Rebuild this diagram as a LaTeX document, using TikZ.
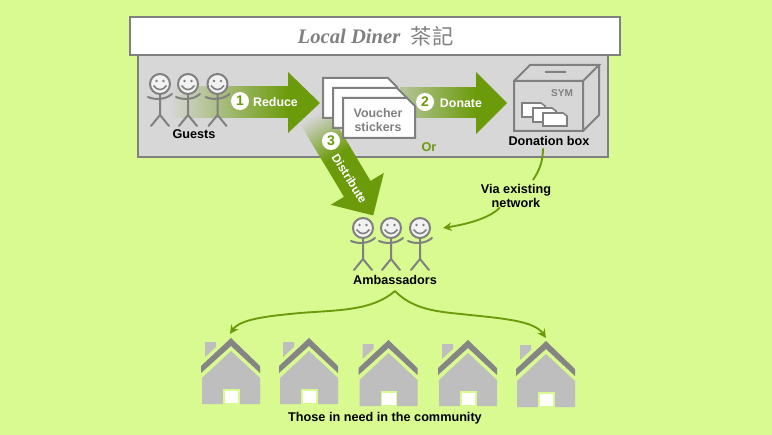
\documentclass[tikz,border=0pt]{standalone}
\usepackage{fontspec}
\setmainfont{Liberation Sans}
\newfontfamily\cjkfont{Noto Sans CJK TC}
\newfontfamily\titlefont{Liberation Serif}
\usetikzlibrary{arrows.meta}
\definecolor{bgg}{HTML}{D8FA90}
\definecolor{boxg}{HTML}{D7D7D7}
\definecolor{lineg}{HTML}{808080}
\definecolor{arrg}{HTML}{6B9B0A}
\definecolor{houseg}{HTML}{BEBEBE}
\definecolor{roofg}{HTML}{858585}
\tikzset{
  lbl/.style={font=\fontsize{9.5}{11}\selectfont\bfseries,text=black,inner sep=0pt,align=center},
  wlbl/.style={font=\fontsize{9.3}{11}\selectfont\bfseries,text=white,inner sep=0pt},
  numdot/.style={circle,fill=white,minimum size=13.5pt,inner sep=0pt,text=arrg,font=\fontsize{10.5}{11}\selectfont\bfseries},
  grn/.style={draw=arrg,line width=1.4pt,-{Stealth[length=6.5pt,width=6.5pt]}},
  grnp/.style={draw=arrg,line width=1.4pt},
  stickman/.pic={
    \draw[lineg,line width=1.5pt,fill=white!90!lineg] (0,0) circle (10);
    \fill[lineg] (-3.5,-3) circle (1.4) (3.5,-3) circle (1.4);
    \draw[lineg,line width=1.2pt] (-6.5,1.5) .. controls (-3,7) and (3,7) .. (6.5,1.5);
    \draw[lineg,line width=1.5pt,line cap=round]
      (0,10) -- (0,31) (-9,42) -- (0,31) -- (9,42)
      (-12,13) .. controls (-5,16) and (5,16) .. (12,10);
  },
  house/.pic={
    \fill[houseg] (-26,4) -- (-15,4) -- (-15,9) -- (-26,19) -- cycle;
    \fill[roofg] (0,0) -- (29,28) -- (29,35) -- (0,8) -- (-30,35) -- (-30,28) -- cycle;
    \fill[houseg] (0,13) -- (29,40) -- (29,66) -- (-29,66) -- (-29,40) -- cycle;
    \draw[bgg,fill=white,line width=0.8pt] (-7,52) rectangle (8,66);
  },
  card/.style={draw=lineg,fill=white,line width=1.5pt,line join=miter}
}
\begin{document}
\begin{tikzpicture}[x=0.75pt,y=-0.75pt]
\useasboundingbox (0,0) rectangle (772,435);
\fill[bgg] (0,0) rectangle (772,435);
% panels
\draw[lineg,fill=boxg,line width=1.5pt] (138,50) rectangle (608,157);
\draw[lineg,fill=white,line width=1.5pt] (130,17) rectangle (620,55);
\node[inner sep=0pt,text=lineg,font=\titlefont\fontsize{15.5}{18}\selectfont\bfseries\itshape] (title) at (349,36) {Local Diner};
\node[inner sep=0pt,text=lineg,font=\cjkfont\fontsize{16}{18}\selectfont] (titlecjk) at (432,36) {茶記};
% reduce arrow
\fill[left color=boxg,right color=arrg] (170,87) -- (288,87) -- (288,118) -- (170,118) -- cycle;
\fill[arrg] (288,72) -- (320,103) -- (288,133) -- cycle;
% donate arrow
\fill[left color=boxg!70!arrg,right color=arrg] (400,88) -- (476,88) -- (476,118) -- (400,118) -- cycle;
\fill[arrg] (476,72) -- (507,103) -- (476,134) -- cycle;
% distribute arrow
\begin{scope}[shift={(313.5,116)},rotate=-59]
  \foreach \i in {0,...,45}{
    \pgfmathsetmacro{\p}{100-\i*100/46}
    \fill[boxg!\p!arrg] (\i,-15.5) rectangle (\i+1.5,15.5);
  }
  \fill[arrg] (46,-15.5) -- (85,-15.5) -- (85,-31) -- (116,0) -- (85,31) -- (85,15.5) -- (46,15.5) -- cycle;
\end{scope}
% guests
\pic at (160,84) {stickman};
\pic at (188,84) {stickman};
\pic at (217.5,84) {stickman};
\node[lbl] (guests) at (194,134.5) {Guests};
% voucher stickers
\draw[card] (323,78) -- (388,78) -- (397,87) -- (397,118) -- (323,118) -- cycle;
\draw[card] (333,88) -- (397,88) -- (406,97) -- (406,128) -- (333,128) -- cycle;
\draw[card] (343,98) -- (407,98) -- (415,106) -- (415,138) -- (343,138) -- cycle;
\node[inner sep=0pt,align=center,text=lineg,font=\fontsize{9.3}{10.6}\selectfont\bfseries] (voucher) at (378,120) {Voucher\\stickers};
% arrow labels
\node[numdot] (n1) at (240,101) {1};
\node[wlbl] (reduce) at (275.5,102) {Reduce};
\node[numdot] (n2) at (425,102) {2};
\node[wlbl] (donate) at (461,103) {Donate};
\node[numdot] (n3) at (331,141) {3};
\node[wlbl,rotate=-58,font=\fontsize{8.9}{11}\selectfont\bfseries] (distribute) at (349.5,178.5) {Distribute};
% donation box
\draw[lineg,line width=1.5pt,line join=miter] (514,81) rectangle (583,131)
  (514,81) -- (530,65) -- (599,65) -- (583,81)
  (599,65) -- (599,115) -- (583,131)
  (545,72) -- (566,72);
\node[inner sep=0pt,text=lineg,font=\fontsize{7.5}{9}\selectfont\bfseries] (sym) at (562,93) {SYM};
\draw[card,line width=1.2pt] (522,103) -- (541,103) -- (545,106) -- (545,117) -- (522,117) -- cycle;
\draw[card,line width=1.2pt] (533,108) -- (552,108) -- (556,111) -- (556,122) -- (533,122) -- cycle;
\draw[card,line width=1.2pt] (543,113) -- (563,113) -- (567,116) -- (567,126) -- (543,126) -- cycle;
\node[lbl] (dbox) at (549,140.5) {Donation box};
\node[inner sep=0pt,text=arrg,font=\fontsize{9.5}{11}\selectfont\bfseries] (or) at (429,147.5) {Or};
% ambassadors
\pic at (363,228) {stickman};
\pic at (391,228) {stickman};
\pic at (420,228) {stickman};
\node[lbl] (amb) at (395,279.5) {Ambassadors};
\node[lbl,font=\fontsize{9.5}{11.2}\selectfont\bfseries] (via) at (516,196) {Via existing\\network};
\coordinate (ambr) at (443,228);
\coordinate (ambt) at (395,291);
\draw[grnp] (dbox.south) ++(-6,3) .. controls (543,162) and (539,171) .. (533,180);
\draw[grn] (via.south) ++(-16,-1) .. controls (490,218) and (468,224) .. (ambr);
% to houses
\pic at (231,338) {house};
\pic at (309,338) {house};
\pic at (388.5,340) {house};
\pic at (468,340) {house};
\pic at (546,341) {house};
\coordinate (h1) at (230,334);
\coordinate (h5) at (546,338);
\draw[grn] (ambt) .. controls (372,311) and (338,310) .. (300,313) .. controls (268,316) and (240,319) .. (h1);
\draw[grn] (ambt) .. controls (415,312) and (445,312) .. (470,315) .. controls (510,319) and (535,322) .. (h5);
\node[lbl] (need) at (385,418.5) {Those in need in the community};
\end{tikzpicture}
\end{document}
